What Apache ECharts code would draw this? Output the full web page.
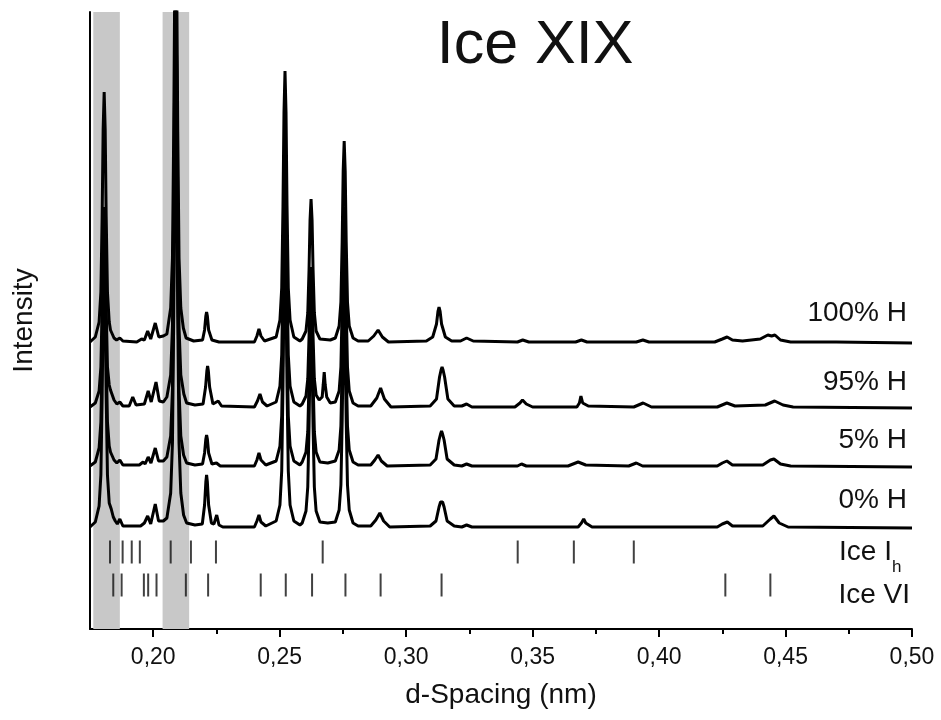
<!DOCTYPE html>
<html>
<head>
<meta charset="utf-8">
<script src="https://cdn.jsdelivr.net/npm/echarts@6/dist/echarts.min.js"></script>
<style>
  html, body { margin: 0; padding: 0; background: #fff; }
  #chart { width: 941px; height: 720px; }
</style>
</head>
<body>
<div id="chart"></div>
<script>
// d-spacing (nm) vs. intensity above each trace's own baseline
const trace100H = [
  [0.175,0],[0.1771,5],[0.1786,20],[0.1793,50],[0.1798,125],[0.1802,213],[0.1806,250],[0.1810,213],[0.1814,125],
  [0.1819,50],[0.1826,20],[0.1831,12],[0.1836,13],[0.1845,4],[0.1855,2],[0.1868,4],[0.1880,1],[0.1935,0],
  [0.1954,3],[0.1965,2],[0.1978,11],[0.1990,3],[0.2008,19],[0.2022,5],[0.2040,6],
  [0.2054,8],[0.2069,34],[0.2076,84],[0.2081,210],[0.2085,357],[0.2089,420],[0.2093,357],[0.2097,210],
  [0.2102,84],[0.2109,34],[0.2119,14],[0.2130,4],[0.2160,1],
  [0.2195,2],[0.2203,12],[0.2208,26],[0.2211,30],[0.2214,26],[0.2219,12],[0.2232,2],[0.2260,0],
  [0.2400,0],[0.2410,6],[0.2418,13],[0.2426,6],[0.2440,1],
  [0.2486,5],[0.2501,22],[0.2508,54],[0.2513,136],[0.2517,230],[0.2521,271],[0.2525,230],[0.2529,136],
  [0.2534,54],[0.2541,22],[0.2556,5],[0.2580,1],
  [0.2589,3],[0.2604,11],[0.2611,29],[0.2616,72],[0.2620,122],[0.2624,143],[0.2628,122],[0.2632,72],
  [0.2637,29],[0.2644,11],[0.2659,3],[0.2700,2],
  [0.2720,4],[0.2735,16],[0.2742,40],[0.2747,100],[0.2751,171],[0.2755,201],[0.2759,171],[0.2763,100],
  [0.2768,40],[0.2775,16],[0.2790,4],[0.2810,1],
  [0.2850,1],[0.2872,6],[0.2889,12],[0.2906,5],[0.2930,0],
  [0.3080,1],[0.3105,5],[0.3120,18],[0.3126,31],[0.3130,35],[0.3134,31],[0.3140,18],[0.3155,5],[0.3180,1],
  [0.3215,1],[0.3239,4],[0.3265,1],
  [0.3440,0],[0.3461,2],[0.3485,0],[0.3670,0],[0.3693,2],[0.3715,0],[0.3910,0],[0.3936,2],[0.3960,0],
  [0.4220,0],[0.4250,3],[0.4269,5],[0.4290,2],[0.4330,1],[0.4400,3],[0.4430,7],[0.4445,6],[0.4458,7],
  [0.4480,2],[0.4520,0],[0.4700,0],[0.5000,-1]
];
const trace95H = [
  [0.175,0],[0.1771,4],[0.1786,16],[0.1793,40],[0.1798,100],[0.1802,170],[0.1806,200],[0.1810,170],[0.1814,100],
  [0.1819,40],[0.1826,22],[0.1831,17],[0.1836,19],[0.1845,7],[0.1856,3],[0.1868,5],[0.1880,1],[0.1905,1],
  [0.1919,10],[0.1932,2],[0.1965,3],[0.1980,16],[0.1992,5],[0.2011,25],[0.2024,6],[0.2040,5],
  [0.2054,10],[0.2069,32],[0.2076,80],[0.2081,200],[0.2085,340],[0.2089,400],[0.2093,340],[0.2097,200],
  [0.2102,80],[0.2109,32],[0.2121,13],[0.2132,4],[0.2165,2],
  [0.2197,3],[0.2207,20],[0.2212,36],[0.2215,41],[0.2218,36],[0.2223,20],[0.2236,3],[0.2257,6],[0.2270,1],
  [0.2400,0],[0.2412,6],[0.2422,13],[0.2432,5],[0.2450,1],
  [0.2486,5],[0.2501,21],[0.2508,52],[0.2513,130],[0.2517,221],[0.2521,260],[0.2525,221],[0.2529,130],
  [0.2534,52],[0.2541,21],[0.2556,5],[0.2580,1],
  [0.2589,3],[0.2604,11],[0.2611,28],[0.2616,70],[0.2620,119],[0.2624,140],[0.2628,119],[0.2632,70],
  [0.2637,28],[0.2644,12],[0.2656,7],
  [0.2668,10],[0.2672,22],[0.2676,35],[0.2680,22],[0.2686,10],[0.2700,4],
  [0.2720,5],[0.2735,16],[0.2742,40],[0.2747,100],[0.2751,170],[0.2755,200],[0.2759,170],[0.2763,100],
  [0.2768,40],[0.2775,16],[0.2790,4],[0.2810,1],
  [0.2860,1],[0.2884,9],[0.2899,19],[0.2914,8],[0.2940,0],
  [0.3095,1],[0.3120,8],[0.3132,30],[0.3138,37],[0.3142,40],[0.3146,37],[0.3152,30],[0.3165,8],[0.3190,1],
  [0.3220,1],[0.3239,3],[0.3260,0],
  [0.3430,0],[0.3450,4],[0.3460,7],[0.3475,3],[0.3500,0],
  [0.3675,0],[0.3685,4],[0.3691,11],[0.3698,4],[0.3720,1],
  [0.3900,0],[0.3937,4],[0.3970,0],
  [0.4230,0],[0.4268,4],[0.4300,1],[0.4420,2],[0.4457,6],[0.4490,2],[0.4530,0],[0.5000,-1]
];
const trace5H = [
  [0.175,0],[0.1771,4],[0.1786,18],[0.1793,44],[0.1798,110],[0.1802,187],[0.1806,220],[0.1810,187],[0.1814,110],
  [0.1819,44],[0.1826,20],[0.1831,14],[0.1836,15],[0.1845,6],[0.1856,3],[0.1868,6],[0.1880,1],[0.1945,1],
  [0.1960,4],[0.1968,2],[0.1980,9],[0.1991,3],[0.2008,18],[0.2021,5],[0.2040,5],
  [0.2054,9],[0.2069,30],[0.2076,76],[0.2081,190],[0.2085,323],[0.2089,380],[0.2093,323],[0.2097,190],
  [0.2102,76],[0.2109,30],[0.2120,11],[0.2132,3],[0.2165,1],
  [0.2195,2],[0.2203,13],[0.2208,27],[0.2211,31],[0.2214,27],[0.2219,13],[0.2232,2],[0.2250,3],[0.2265,0],
  [0.2400,0],[0.2410,6],[0.2418,13],[0.2426,6],[0.2445,1],
  [0.2486,5],[0.2501,20],[0.2508,50],[0.2513,125],[0.2517,213],[0.2521,250],[0.2525,213],[0.2529,125],
  [0.2534,50],[0.2541,20],[0.2556,5],[0.2580,1],
  [0.2589,4],[0.2604,14],[0.2611,34],[0.2616,85],[0.2620,145],[0.2624,170],[0.2628,145],[0.2632,85],
  [0.2637,34],[0.2644,14],[0.2659,4],[0.2690,3],
  [0.2720,5],[0.2735,16],[0.2742,40],[0.2747,100],[0.2751,170],[0.2755,200],[0.2759,170],[0.2763,100],
  [0.2768,40],[0.2775,16],[0.2790,4],[0.2810,1],
  [0.2860,1],[0.2876,6],[0.2889,11],[0.2902,5],[0.2925,0],
  [0.3095,1],[0.3118,7],[0.3130,26],[0.3136,32],[0.3140,35],[0.3144,32],[0.3150,26],[0.3162,7],[0.3190,1],
  [0.3220,0],[0.3239,2],[0.3260,0],[0.3440,0],[0.3456,2],[0.3475,0],
  [0.3640,0],[0.3680,4],[0.3710,1],[0.3880,0],[0.3910,3],[0.3935,0],
  [0.4230,0],[0.4250,3],[0.4268,5],[0.4290,1],[0.4410,1],[0.4440,6],[0.4454,7],[0.4480,2],
  [0.4520,0],[0.5000,-1]
];
const trace0H = [
  [0.175,0],[0.1771,5],[0.1786,21],[0.1793,52],[0.1798,130],[0.1802,221],[0.1806,260],[0.1810,221],[0.1814,130],
  [0.1819,52],[0.1826,24],[0.1834,18],[0.1842,10],[0.1850,6],[0.1858,3],[0.1868,8],[0.1880,1],
  [0.1950,1],[0.1965,4],[0.1978,11],[0.1990,3],[0.2008,23],[0.2021,6],[0.2040,6],
  [0.2054,9],[0.2069,34],[0.2076,84],[0.2081,210],[0.2085,357],[0.2089,420],[0.2093,357],[0.2097,210],
  [0.2102,84],[0.2109,34],[0.2120,12],[0.2132,4],[0.2165,2],
  [0.2194,3],[0.2203,22],[0.2208,45],[0.2211,52],[0.2214,45],[0.2219,22],[0.2230,4],[0.2240,3],[0.2251,12],
  [0.2260,2],[0.2275,0],
  [0.2400,0],[0.2410,6],[0.2418,12],[0.2426,5],[0.2445,1],
  [0.2486,6],[0.2501,22],[0.2508,56],[0.2513,140],[0.2517,238],[0.2521,280],[0.2525,238],[0.2529,140],
  [0.2534,56],[0.2541,22],[0.2556,6],[0.2580,2],
  [0.2589,4],[0.2604,16],[0.2611,40],[0.2616,100],[0.2620,170],[0.2624,200],[0.2628,170],[0.2632,100],
  [0.2637,40],[0.2644,16],[0.2659,5],[0.2690,4],
  [0.2720,5],[0.2735,17],[0.2742,42],[0.2747,105],[0.2751,179],[0.2755,210],[0.2759,179],[0.2763,105],
  [0.2768,42],[0.2775,17],[0.2790,4],[0.2810,1],
  [0.2860,1],[0.2880,7],[0.2896,14],[0.2911,6],[0.2935,0],
  [0.3095,1],[0.3118,6],[0.3130,20],[0.3136,25],[0.3140,27],[0.3144,25],[0.3150,20],[0.3162,6],[0.3190,1],
  [0.3220,0],[0.3239,2],[0.3260,0],[0.3680,0],[0.3693,4],[0.3702,8],[0.3710,4],[0.3735,0],
  [0.4230,0],[0.4250,3],[0.4270,5],[0.4290,1],[0.4410,1],[0.4440,8],[0.4454,11],[0.4475,4],[0.4510,0],[0.5000,-1]
];

const traceNames = ['100% H', '95% H', '5% H', '0% H'];
const traceBaselines = [287, 222, 163, 102];   // vertical stacking offset of each trace
const traces = [trace100H, trace95H, trace5H, trace0H];

// reference reflection positions (nm)
const iceIhLines = [0.1829, 0.1879, 0.1915, 0.1947, 0.2069, 0.2149, 0.2248, 0.2670, 0.3441, 0.3663, 0.3900];
const iceVILines = [0.1842, 0.1875, 0.1963, 0.1980, 0.2013, 0.2129, 0.2217, 0.2425, 0.2524, 0.2628, 0.2760,
  0.2899, 0.3140, 0.4262, 0.4440];

// grey highlighted regions
const bands = [[0.1763, 0.1868], [0.2037, 0.2142]];

const majorTicks = [0.20, 0.25, 0.30, 0.35, 0.40, 0.45, 0.50];
const minorTicks = [0.225, 0.275, 0.325, 0.375, 0.425, 0.475];

const FONT = 'Liberation Sans, Arial, sans-serif';

const chart = echarts.init(document.getElementById('chart'));

const series = traces.map((pts, i) => ({
  name: traceNames[i],
  type: 'line',
  data: pts.map(p => [p[0], p[1] + traceBaselines[i]]),
  showSymbol: false,
  symbol: 'none',
  clip: true,
  lineStyle: { color: '#000', width: 3 },
  z: 3
}));

series[0].markArea = {
  silent: true,
  itemStyle: { color: '#c8c8c8' },
  data: bands.map(b => [{ xAxis: b[0] }, { xAxis: b[1] }])
};

series.push({
  name: 'Ice Ih',
  type: 'scatter',
  data: iceIhLines.map(d => [d, 77]),
  symbol: 'rect',
  symbolSize: [2, 23],
  itemStyle: { color: '#111' },
  z: 2
});
series.push({
  name: 'Ice VI',
  type: 'scatter',
  data: iceVILines.map(d => [d, 44]),
  symbol: 'rect',
  symbolSize: [2, 23],
  itemStyle: { color: '#111' },
  z: 2
});

const txt = (text, x, y, size, align) => ({
  type: 'text',
  x: x, y: y,
  style: { text: text, font: size + 'px ' + FONT, fill: '#111', align: align || 'right', verticalAlign: 'middle' }
});

const option = {
  animation: false,
  grid: { left: 90, right: 29, top: 12, bottom: 91 },
  xAxis: [{
    type: 'value',
    min: 0.175,
    max: 0.50,
    name: 'd-Spacing (nm)',
    nameLocation: 'middle',
    nameGap: 52,
    nameTextStyle: { fontFamily: FONT, fontSize: 28, color: '#111' },
    axisLine: { onZero: false, lineStyle: { color: '#000', width: 2 } },
    axisTick: { show: true, customValues: majorTicks, length: 8, lineStyle: { color: '#000', width: 2 } },
    axisLabel: {
      customValues: majorTicks,
      margin: 17,
      fontFamily: FONT, fontSize: 23, color: '#111',
      formatter: v => v.toFixed(2).replace('.', ',')
    },
    splitLine: { show: false }
  }, {
    type: 'value',
    min: 0.175,
    max: 0.50,
    position: 'bottom',
    axisLine: { show: false, onZero: false },
    axisTick: { show: true, customValues: minorTicks, length: 5, lineStyle: { color: '#000', width: 2 } },
    axisLabel: { show: false },
    splitLine: { show: false }
  }],
  yAxis: {
    type: 'value',
    min: 0,
    max: 617,
    name: 'Intensity',
    nameLocation: 'middle',
    nameGap: 52,
    nameTextStyle: { fontFamily: FONT, fontSize: 28, color: '#111' },
    axisLine: { show: true, lineStyle: { color: '#000', width: 2 } },
    axisTick: { show: false },
    axisLabel: { show: false },
    splitLine: { show: false }
  },
  graphic: [
    txt('Ice XIX', 535, 46, 61, 'center'),
    txt(traceNames[0], 907, 313, 28),
    txt(traceNames[1], 907, 382, 28),
    txt(traceNames[2], 907, 440, 28),
    txt(traceNames[3], 907, 500, 28),
    txt('Ice I', 839, 552, 28, 'left'),
    txt('h', 892, 567, 17, 'left'),
    txt('Ice VI', 910, 595, 28)
  ],
  series: series
};

chart.setOption(option);
</script>
</body>
</html>
